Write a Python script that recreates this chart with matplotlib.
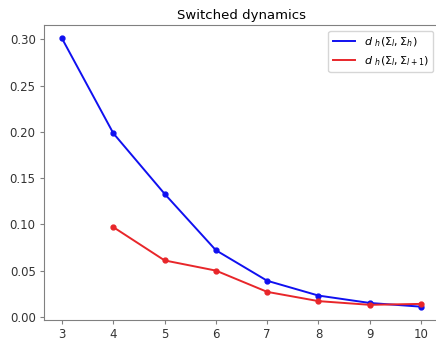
import matplotlib.pyplot as plt

steps = [3, 4, 5, 6, 7, 8, 9, 10]
dist_h = [0.301, 0.1985, 0.133, 0.072, 0.039, 0.023, 0.015, 0.011]
steps_next = [4, 5, 6, 7, 8, 9, 10]
dist_next = [0.097, 0.061, 0.050, 0.027, 0.017, 0.013, 0.014]

fig = plt.figure(figsize=(4.36, 3.38), dpi=100)
ax = fig.add_axes([0.101, 0.053, 0.906, 0.873])

blue = '#1010f0'
red = '#e8262a'
ax.plot(steps, dist_h, color=blue, lw=1.4, label=r'$d\ _h(\Sigma_l, \Sigma_h)$')
ax.plot(steps, dist_h, 'o', color=blue, markersize=3.5)
ax.plot(steps_next, dist_next, color=red, lw=1.4,
        label=r'$d\ _h(\Sigma_l, \Sigma_{l+1})$')
ax.plot(steps_next, dist_next, 'o', color=red, markersize=3.5)

for s in ax.spines.values():
    s.set_color('#808080')
ax.tick_params(colors='#333333', labelsize=8.5, length=3, pad=3)
ax.tick_params(axis='both', color='#808080')
ax.set_title('Switched dynamics', fontsize=9.5, pad=4)
ax.legend(loc='upper right', fontsize=8, edgecolor='#cccccc')

plt.savefig('out.png', dpi=100)
